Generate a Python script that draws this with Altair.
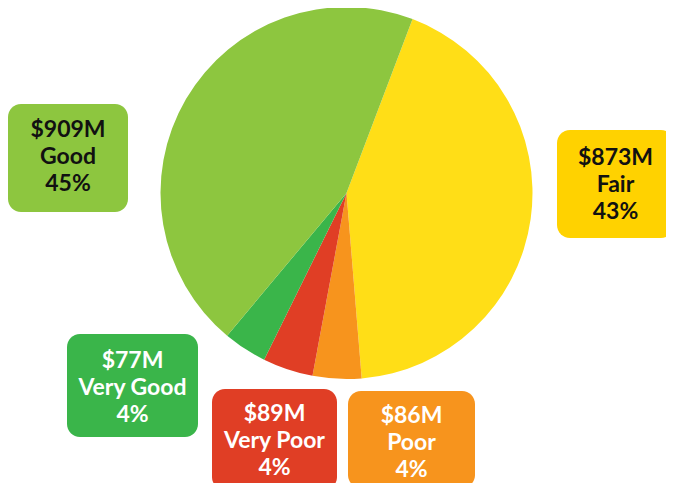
import math
import altair as alt
import pandas as pd

# ---- data ----
categories = ["Fair", "Poor", "Very Poor", "Very Good", "Good"]
values = [873, 86, 89, 77, 909]
value_labels = ["$873M", "$86M", "$89M", "$77M", "$909M"]
pct_labels = ["43%", "4%", "4%", "4%", "45%"]
slice_colors = ["#FFDE17", "#F7941D", "#E03E25", "#3AB54A", "#8DC63F"]
box_colors = ["#FFD200", "#F7941D", "#E03E25", "#3AB54A", "#8DC63F"]
text_colors = ["#111111", "#FFFFFF", "#FFFFFF", "#FFFFFF", "#111111"]

# ---- layout (label box positions, chart pixels) ----
box_x = [549, 340, 204, 59, 0]
box_x2 = [666, 467, 329, 190, 120]
box_y = [122, 383, 381, 326, 96]
box_y2 = [230, 480, 482, 429, 204]
text_mid_y = [177, 435, 433, 380, 149]

W, H = 658, 475
CX, CY, R = 338.5, 185, 186
LINE_H = 27
start = math.radians(20.8)

pie_df = pd.DataFrame({
    "category": categories,
    "value": values,
    "idx": list(range(len(categories))),
})

lab_df = pd.DataFrame({
    "category": categories,
    "label": [f"{v}\n{c}\n{p}" for v, c, p in zip(value_labels, categories, pct_labels)],
    "x": box_x, "x2": box_x2, "y": box_y, "y2": box_y2,
    "boxcolor": box_colors, "textcolor": text_colors,
})
lab_df["cx"] = (lab_df["x"] + lab_df["x2"]) / 2
lab_df["ty"] = [t - LINE_H for t in text_mid_y]

pie = alt.Chart(pie_df).mark_arc(radius=R, strokeWidth=0).encode(
    theta=alt.Theta("value:Q", stack=True,
                    scale=alt.Scale(range=[start, start + 2 * math.pi])),
    color=alt.Color("category:N", scale=alt.Scale(domain=categories, range=slice_colors),
                    legend=None),
    order=alt.Order("idx:Q"),
    x=alt.value(CX),
    y=alt.value(CY),
)

boxes = alt.Chart(lab_df).mark_rect(cornerRadius=13).encode(
    x=alt.X("x:Q", scale=None, axis=None),
    x2="x2:Q",
    y=alt.Y("y:Q", scale=None, axis=None),
    y2="y2:Q",
    color=alt.Color("boxcolor:N", scale=None),
)

texts = alt.Chart(lab_df).mark_text(
    font="Lato", fontWeight="bold", fontSize=23, lineBreak="\n", lineHeight=LINE_H,
    align="center", baseline="middle",
).encode(
    x=alt.X("cx:Q", scale=None, axis=None),
    y=alt.Y("ty:Q", scale=None, axis=None),
    text="label:N",
    color=alt.Color("textcolor:N", scale=None),
)

chart = alt.layer(pie, boxes, texts).properties(
    width=W, height=H, autosize="none", padding=0,
    view=alt.ViewBackground(stroke="transparent", strokeWidth=0),
).configure_view(stroke="transparent", strokeWidth=0).configure(background="white")

chart.save("out.html", embed_options={"renderer": "svg", "actions": False})
